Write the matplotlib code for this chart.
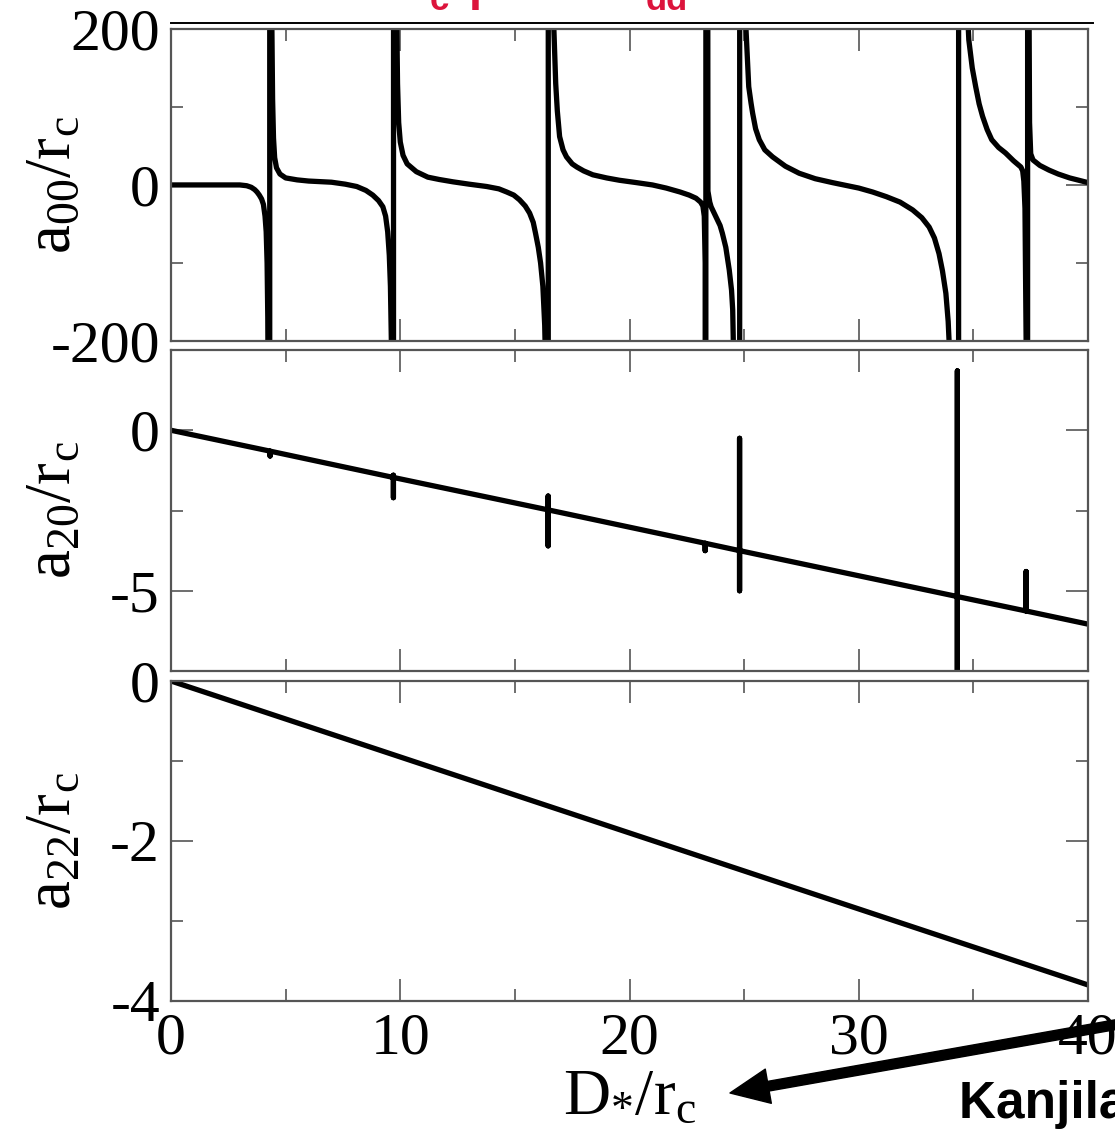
import matplotlib
matplotlib.use("Agg")
import matplotlib.pyplot as plt
from matplotlib.lines import Line2D
from matplotlib.ticker import MultipleLocator

# a00/rc vs D*/rc (large +-3000 values draw the pole lines)
a00_D = [
    0.0, 1.5, 3.0, 3.3, 3.5, 3.65, 3.75, 3.85, 3.95, 4.03, 4.10, 4.15,
    4.19, 4.22, 4.26, 4.30,
    4.31, 4.36, 4.40, 4.43, 4.47, 4.52, 4.60, 4.75, 5.0, 5.5, 6.0, 7.0,
    7.6, 8.1, 8.5, 8.8, 9.05, 9.24, 9.36, 9.45, 9.52, 9.57, 9.61, 9.65,
    9.70,
    9.71, 9.76, 9.83, 9.88, 9.93, 10.0, 10.12, 10.3, 10.7, 11.2, 11.7,
    12.3, 13.0, 13.77, 14.3, 14.64, 14.95, 15.2, 15.45, 15.64, 15.8, 15.9,
    16.02, 16.12, 16.22, 16.3, 16.35, 16.40, 16.45,
    16.46, 16.55, 16.70, 16.78, 16.85, 16.95, 17.1, 17.25, 17.5, 17.7,
    18.0, 18.4, 19.0, 19.56, 20.3, 21.0, 21.6, 22.2, 22.6, 22.9, 23.1,
    23.2, 23.26, 23.30, 23.32,
    23.34, 23.42, 23.5, 23.56, 23.77, 23.95, 24.05, 24.2, 24.35, 24.45,
    24.5, 24.56, 24.65, 24.80,
    24.81, 24.92, 25.0, 25.08, 25.2, 25.3, 25.37, 25.5, 25.66, 25.9, 26.24,
    26.8, 27.4, 28.1, 28.85, 29.5, 30.0, 30.6, 31.2, 31.8, 32.35, 32.75,
    33.07, 33.3, 33.5, 33.65, 33.8, 33.9, 33.97, 34.1, 34.35,
    34.36, 34.55, 34.7, 34.8, 34.95, 35.1, 35.25, 35.4, 35.6, 35.8, 36.1,
    36.4, 36.75, 37.07, 37.15, 37.2, 37.25, 37.30, 37.36,
    37.37, 37.40, 37.45, 37.5, 37.6, 37.9, 38.3, 38.7, 39.2, 39.6, 40.0,
]
a00 = [
    0, 0, 0, -1, -3, -6, -9, -13, -18, -25, -40, -60,
    -100, -170, -400, -3000,
    3000, 400, 200, 110, 60, 35, 22, 14, 9, 6.5, 5, 3.5,
    1, -2, -7, -13, -20, -28, -40, -60, -90, -130, -200, -500,
    -3000,
    3000, 600, 250, 130, 80, 55, 38, 27, 17, 10, 7,
    4, 1, -2, -5, -9, -13, -19, -27, -36, -48, -62,
    -80, -100, -130, -180, -250, -600, -3000,
    3000, 600, 200, 130, 95, 62, 45, 36, 27, 23,
    18, 13, 9, 6, 3, 0, -4, -9, -13, -17, -22,
    -27, -40, -100, -3000,
    3000, -8, -22, -28, -41, -52, -62, -80, -109, -135,
    -160, -250, -800, -3000,
    3000, 500, 300, 200, 126, 105, 92, 72, 58, 45, 36,
    24, 15, 8, 3, -1, -4, -9, -15, -22, -32, -42,
    -54, -68, -88, -110, -139, -175, -220, -600, -3000,
    3000, 600, 250, 186, 150, 126, 104, 88, 71, 58, 48,
    41, 31, 23, 18, 5, -30, -200, -3000,
    3000, 400, 80, 40, 32, 25, 19, 14, 9, 6, 3,
]

# a20/rc: straight line with short vertical spikes at the resonances
a20_D = [
    0.0, 4.32, 4.32, 4.32, 9.70, 9.70, 9.70, 9.70, 16.45, 16.45, 16.45,
    16.45, 23.3, 23.3, 23.3, 24.8, 24.8, 24.8, 24.8, 34.3, 34.3, 34.3,
    34.3, 37.3, 37.3, 37.3, 40.0,
]
a20 = [
    0.0, -0.65, -0.80, -0.65, -1.47, -1.40, -2.10, -1.47, -2.48, -2.05,
    -3.60, -2.48, -3.52, -3.75, -3.52, -3.75, -0.25, -5.00, -3.75, -5.18,
    1.85, -9.00, -5.18, -5.63, -4.40, -5.63, -6.04,
]

# a22/rc
a22_D = [0.0, 20.0, 40.0]
a22 = [0.0, -1.90, -3.80]

x_ticks = [0, 10, 20, 30, 40]

SERIF = "Liberation Serif"
FRAME = "#555555"


def style_axes(ax, ylim, ymajor, yminor):
    ax.set_xlim(0, 40)
    ax.set_ylim(*ylim)
    ax.set_xticks(x_ticks)
    ax.xaxis.set_minor_locator(MultipleLocator(5))
    ax.yaxis.set_major_locator(MultipleLocator(ymajor))
    ax.yaxis.set_minor_locator(MultipleLocator(yminor))
    ax.tick_params(which="both", direction="in", top=True, right=True,
                   color=FRAME, width=1.2, labelsize=43, pad=8)
    ax.tick_params(which="major", length=16)
    ax.tick_params(which="minor", length=8.5)
    for s in ax.spines.values():
        s.set_color(FRAME)
        s.set_linewidth(1.6)
    for lab in ax.get_xticklabels() + ax.get_yticklabels():
        lab.set_fontfamily(SERIF)


def main():
    plt.rcParams["mathtext.fontset"] = "custom"
    plt.rcParams["mathtext.rm"] = SERIF
    plt.rcParams["mathtext.it"] = SERIF + ":italic"
    plt.rcParams["font.family"] = SERIF
    plt.rcParams["axes.unicode_minus"] = False

    fig = plt.figure(figsize=(11.15, 11.35), dpi=100)
    left, width = 0.1534, 0.8224
    ax0 = fig.add_axes([left, 0.6996, width, 0.2749])
    ax1 = fig.add_axes([left, 0.4088, width, 0.2828])
    ax2 = fig.add_axes([left, 0.1181, width, 0.2819])

    ax0.plot(a00_D, a00, color="black", lw=3.8, solid_joinstyle="round")
    style_axes(ax0, (-200, 200), 200, 100)
    ax0.set_yticks([-200, 0, 200])
    ax0.set_ylabel(r"$\mathrm{a_{00}/r_c}$", fontsize=47)

    ax1.plot(a20_D, a20, color="black", lw=3.8)
    style_axes(ax1, (-7.5, 2.5), 5, 2.5)
    ax1.set_ylabel(r"$\mathrm{a_{20}/r_c}$", fontsize=47)

    ax2.plot(a22_D, a22, color="black", lw=3.8)
    style_axes(ax2, (-4, 0), 2, 1)
    ax2.set_ylabel(r"$\mathrm{a_{22}/r_c}$", fontsize=47)
    ax2.set_xlabel(r"$\mathrm{D}_{\text{*}}\mathrm{/r_c}$", fontsize=47,
                   labelpad=2)

    for ax in (ax0, ax1):
        ax.tick_params(labelbottom=False)
    for ax in (ax0, ax1, ax2):
        ax.yaxis.set_label_coords(-0.095, 0.5)

    # slide decorations: rule above the plot, cropped red title, arrow, citation
    fig.add_artist(Line2D([171 / 1115, 1093 / 1115], [1 - 23 / 1135] * 2,
                          transform=fig.transFigure, color="black", lw=1.4))
    red = "#DC143C"
    fig.text(430 / 1115, 1 - 10 / 1135, "c", color=red, fontsize=25,
             fontweight="bold", family="Liberation Sans", va="baseline")
    fig.text(469 / 1115, 1.0, "p", color=red, fontsize=34,
             fontweight="bold", family="Liberation Sans", va="baseline")
    fig.text(646 / 1115, 1 - 10 / 1135, "dd", color=red, fontsize=25,
             fontweight="bold", family="Liberation Sans", va="baseline")

    ax2.annotate("", xy=(730 / 1115, 1 - 1093 / 1135),
                 xytext=(1125 / 1115, 1 - 1023 / 1135),
                 xycoords="figure fraction", textcoords="figure fraction",
                 annotation_clip=False, zorder=10,
                 arrowprops=dict(width=7, headwidth=25, headlength=28,
                                 facecolor="black", edgecolor="black",
                                 shrink=0.0))
    fig.text(959 / 1115, 1 - 1118 / 1135, "Kanjilal et al.",
             family="Liberation Sans", fontweight="bold", fontsize=37,
             color="black", va="baseline")

    fig.savefig("out.png", dpi=100)
    plt.close(fig)


if __name__ == "__main__":
    main()
